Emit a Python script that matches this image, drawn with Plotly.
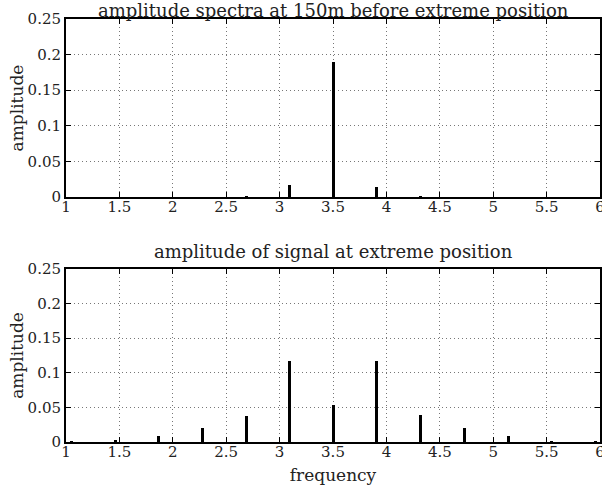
import plotly.graph_objects as go
from plotly.subplots import make_subplots

# top panel: amplitude spectra at 150 m before extreme position
freq_top = [2.69, 3.09, 3.50, 3.91, 4.32]
amp_top = [0.001, 0.017, 0.189, 0.014, 0.001]

# bottom panel: amplitude of signal at extreme position
freq_bot = [1.05, 1.46, 1.87, 2.28, 2.69, 3.09, 3.50, 3.91, 4.32, 4.73, 5.14, 5.55, 5.96]
amp_bot = [0.001, 0.003, 0.008, 0.020, 0.038, 0.117, 0.054, 0.117, 0.039, 0.020, 0.008, 0.002, 0.001]

title_top = "amplitude spectra at 150m before extreme position"
title_bot = "amplitude of signal at extreme position"
x_ticks = [1, 1.5, 2, 2.5, 3, 3.5, 4, 4.5, 5, 5.5, 6]
x_ticktext = ["1", "1.5", "2", "2.5", "3", "3.5", "4", "4.5", "5", "5.5", "6"]
y_ticks = [0, 0.05, 0.1, 0.15, 0.2, 0.25]
y_ticktext = ["0", "0.05", "0.1", "0.15", "0.2", "0.25"]

FONT = "DejaVu Serif"
TXT = "#222222"

fig = make_subplots(rows=2, cols=1, vertical_spacing=0.0)
fig.add_trace(go.Bar(x=freq_top, y=amp_top, width=0.028, marker=dict(color="black", line=dict(width=0))), row=1, col=1)
fig.add_trace(go.Bar(x=freq_bot, y=amp_bot, width=0.028, marker=dict(color="black", line=dict(width=0))), row=2, col=1)

axis_common = dict(
    showline=True, linecolor="black", linewidth=2, mirror="allticks",
    ticks="inside", ticklen=5, tickcolor="black", tickwidth=1,
    showgrid=True, gridcolor="#777777", griddash="1px,3px", gridwidth=1,
    zeroline=False, tickfont=dict(family=FONT, size=15, color=TXT), automargin=False,
)

fig.update_xaxes(**axis_common, range=[0.99999, 6.00001], tickvals=x_ticks, ticktext=x_ticktext,
                 ticklabeloverflow="allow", ticklabelstandoff=-5)
fig.update_yaxes(**axis_common, range=[0, 0.25], tickvals=y_ticks, ticktext=y_ticktext,
                 ticklabelstandoff=0,
                 title=dict(text="amplitude", font=dict(family=FONT, size=17, color=TXT), standoff=0))
fig.update_xaxes(title=dict(text="frequency", font=dict(family=FONT, size=17, color=TXT), standoff=9), row=2, col=1)

fig.update_layout(
    width=602, height=493,
    margin=dict(l=66, r=2, t=19, b=51, autoexpand=False),
    paper_bgcolor="white", plot_bgcolor="white",
    showlegend=False, bargap=0,
    yaxis=dict(domain=[0.579, 1.0]),
    yaxis2=dict(domain=[0.0, 0.409]),
    annotations=[
        dict(text=title_top, x=0.5, xref="paper", y=1.0, yref="paper", yanchor="bottom", xanchor="center",
             showarrow=False, font=dict(family=FONT, size=18, color=TXT), yshift=-4),
        dict(text=title_bot, x=0.5, xref="paper", y=0.409, yref="paper", yanchor="bottom", xanchor="center",
             showarrow=False, font=dict(family=FONT, size=18, color=TXT), yshift=5),
    ],
)

fig.write_html("out.html", config={"displayModeBar": False},
               post_script="document.body.style.margin='0';")
